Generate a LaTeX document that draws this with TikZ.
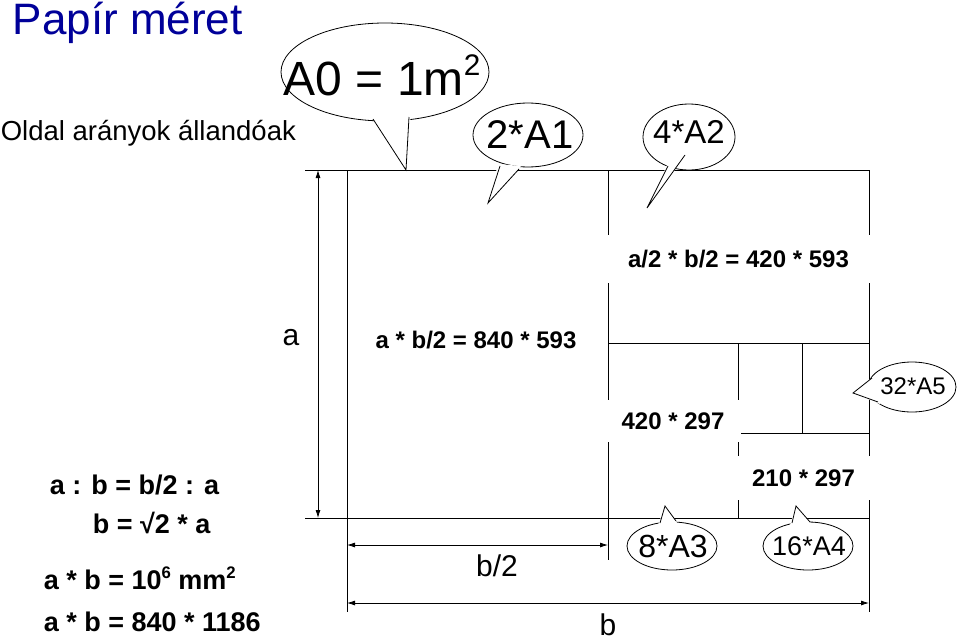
\documentclass[tikz,border=0pt]{standalone}
\usepackage{fontspec}
\setmainfont{Liberation Sans}
\usetikzlibrary{arrows.meta}
\newcommand{\supr}[1]{\raisebox{0.42em}{\scalebox{0.62}{#1}}}
\begin{document}
\begin{tikzpicture}[x=1pt,y=-1pt,line width=1pt,
  lbl/.style={fill=white,inner sep=2pt,font=\fontsize{24}{26}\selectfont\bfseries},
  dim/.style={{Latex[length=8pt,width=5pt]}-{Latex[length=8pt,width=5pt]},line width=0.8pt},
  ext/.style={line width=0.8pt},
  bub/.style={draw,fill=white,line width=0.8pt}]
\useasboundingbox (0,0) rectangle (960,642);
% rectangle and subdivisions
\draw (347,170) rectangle (869,518);
\draw (608,170) -- (608,560);
\draw (608,343) -- (869,343);
\draw (738,343) -- (738,518);
\draw (802,343) -- (802,433);
\draw (741,433) -- (869,433);
% labels on lines
\node[lbl,minimum width=266pt,minimum height=48pt] (l1) at (738.5,259) {a/2 * b/2 = 420 * 593};
\node[lbl] (l2) at (476,340) {a * b/2 = 840 * 593};
\node[lbl,minimum width=136pt,minimum height=42pt] (l3) at (673,421) {420 * 297};
\node[lbl,minimum width=136pt,minimum height=44pt] (l4) at (803.5,478) {210 * 297};
% dimension lines
\draw[ext] (305,170) -- (347,170);
\draw[ext] (305,518) -- (347,518);
\draw[dim] (318,518) -- (318,170);
\draw[ext] (347,518) -- (347,612);
\draw[ext] (869,518) -- (869,612);
\draw[dim] (347,545) -- (608,545);
\draw[dim] (347,603) -- (869,603);
\node[font=\fontsize{30}{32}\selectfont] (la) at (291,338) {a};
\node[font=\fontsize{30}{32}\selectfont] (lb2) at (497,566) {b/2};
\node[font=\fontsize{30}{32}\selectfont] (lb) at (608,625) {b};
% left texts
\node[anchor=west,text=blue!60!black,font=\fontsize{44}{46}\selectfont] (t1) at (9,23) {Papír méret};
\node[anchor=west,font=\fontsize{27.5}{30}\selectfont] (t2) at (-3,133) {Oldal arányok állandóak};
\begin{scope}[every node/.style={anchor=west,font=\fontsize{27}{29}\selectfont\bfseries}]
\node (e1) at (46,485) {a : b = b/2 : a};
\node (e2) at (89,523) {b = √2 * a};
\node (e3) at (40,578) {a * b = 10\supr{6} mm\supr{2}};
\node (e4) at (40,622) {a * b = 840 * 1186};
\end{scope}
% bubbles
\draw[bub] (385,72) ellipse (104 and 49);
\fill[white] (371,116) -- (406,170) -- (411,113) -- cycle;
\draw[line width=0.8pt] (373,119) -- (406,170) -- (409,117);
\node[font=\fontsize{48}{50}\selectfont] (b0) at (382,75) {A0 = 1m\supr{2}};

\draw[bub] (528,135) ellipse (55 and 32);
\fill[white] (498,164) -- (488,203) -- (521,166) -- cycle;
\draw[line width=0.8pt] (500,166) -- (488,203) -- (519,169);
\node[font=\fontsize{40}{42}\selectfont] (b1) at (530,135) {2*A1};

\draw[bub] (689,137) ellipse (46 and 33);
\fill[white] (668,163) -- (647,208) -- (687,153) -- cycle;
\draw[line width=0.8pt] (668,166) -- (647,208) -- (685,155);
\node[font=\fontsize{33}{35}\selectfont] (b2) at (689,132) {4*A2};

\draw[bub] (912,387) ellipse (44 and 25);
\fill[white] (874,376) -- (853,393) -- (880,404) -- cycle;
\draw[line width=0.8pt] (872,378) -- (853,393) -- (878,402);
\node[font=\fontsize{24}{26}\selectfont] (b5) at (913,386) {32*A5};

\draw[bub] (672,546) ellipse (45 and 24);
\fill[white] (658,525) -- (665,506) -- (678,524) -- cycle;
\draw[line width=0.8pt] (660,523) -- (665,506) -- (676,521);
\node[font=\fontsize{32}{34}\selectfont] (b3) at (673,546) {8*A3};

\draw[bub] (808,546) ellipse (45 and 24);
\fill[white] (790,525) -- (796,506) -- (812,525) -- cycle;
\draw[line width=0.8pt] (792,523) -- (796,506) -- (810,522);
\node[font=\fontsize{27}{29}\selectfont] (b4) at (809,546) {16*A4};
\end{tikzpicture}
\end{document}
